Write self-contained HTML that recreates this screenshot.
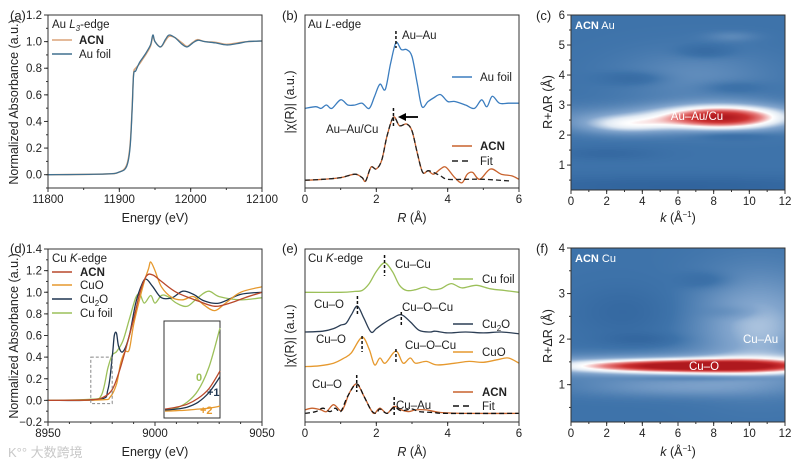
<!DOCTYPE html>
<html><head><meta charset="utf-8">
<style>
html,body{margin:0;padding:0;background:#fff;}
#wrap{position:relative;width:800px;height:468px;overflow:hidden;font-family:"Liberation Sans","Noto Sans CJK SC",sans-serif;}
canvas{position:absolute;}
svg{position:absolute;left:0;top:0;}
text{font-family:"Liberation Sans","Noto Sans CJK SC",sans-serif;fill:#222;}
</style></head>
<body>
<div id="wrap">
<canvas id="hc" width="214" height="175" style="left:571px;top:15px"></canvas>
<canvas id="hf" width="214" height="174" style="left:571px;top:248px"></canvas>
<svg id="chart" width="800" height="468"></svg>
</div>
<script>
// ---------- DATA ----------
// (a) Au L3-edge XANES
const aE=[11800,11880,11900,11910,11915,11918,11920,11923,11928,11933,11938,11944,11947,11950,11958,11965,11970,11978,11988,11995,12003,12010,12020,12035,12050,12065,12080,12100];
const aFoil=[0,0.005,0.02,0.06,0.2,0.5,0.75,0.78,0.84,0.88,0.92,0.98,1.05,1.0,0.96,1.02,1.05,1.03,0.98,0.96,0.99,1.01,1.0,0.99,0.975,0.985,1.0,1.005];
const aACN=[0,0.005,0.02,0.07,0.22,0.52,0.76,0.8,0.83,0.87,0.91,0.97,1.04,1.0,0.96,1.01,1.04,1.03,0.99,0.965,0.995,1.015,1.0,0.995,0.98,0.99,1.0,1.005];
// (b) Au FT-EXAFS
const bR=[0,0.3,0.45,0.6,0.75,1.0,1.2,1.4,1.6,1.8,1.95,2.1,2.25,2.4,2.55,2.7,2.85,3.0,3.15,3.28,3.45,3.6,3.8,4.0,4.2,4.5,4.75,4.95,5.1,5.25,5.45,5.7,6.0];
const bFoil=[0.46,0.47,0.46,0.48,0.46,0.51,0.48,0.48,0.49,0.46,0.53,0.6,0.57,0.72,0.84,0.8,0.8,0.76,0.6,0.47,0.5,0.52,0.54,0.5,0.5,0.48,0.46,0.51,0.47,0.53,0.49,0.49,0.49];
const bR2=[0,0.5,1.0,1.4,1.6,1.7,1.85,2.0,2.15,2.3,2.48,2.65,2.85,3.0,3.15,3.3,3.45,3.6,3.8,3.95,4.2,4.4,4.55,4.7,4.9,5.2,5.5,5.8,6.0];
const bACN=[0.045,0.05,0.06,0.08,0.06,0.04,0.12,0.11,0.16,0.3,0.41,0.36,0.37,0.33,0.2,0.09,0.1,0.08,0.11,0.12,0.06,0.03,0.08,0.09,0.05,0.11,0.08,0.07,0.05];
const bRfit=[0,0.5,1.0,1.4,1.6,1.7,1.85,2.0,2.15,2.3,2.48,2.65,2.85,3.0,3.15,3.3,3.45,3.6,3.8,4.0,4.5,5.0,5.8];
const bFit=[0.045,0.05,0.06,0.08,0.06,0.04,0.12,0.11,0.16,0.3,0.41,0.36,0.37,0.33,0.2,0.09,0.1,0.09,0.07,0.05,0.05,0.05,0.04];
// (c) wavelet blobs Au: k, R, sigmaK, sigmaR, amplitude
const cK=[8.5,3.0,6.0,7.0,3.5,7.5,9.0,9.0,2.0,6.0,9.0];
const cRv=[2.6,2.35,2.6,4.0,3.9,4.8,3.6,2.0,1.4,0.3,5.3];
const cSK=[2.5,1.8,6.0,3.0,1.2,1.0,1.2,1.5,2.0,8.0,1.0];
const cSR=[0.3,0.22,0.3,0.6,0.15,0.15,0.15,0.1,0.15,0.25,0.12];
const cA=[0.55,0.25,0.15,0.1,-0.1,-0.1,-0.08,-0.1,-0.08,-0.12,0.08];
// (d) Cu K-edge XANES
const dE1=[8950,8970,8976,8980,8983,8986,8990,8993,8996,8999,9003,9010,9020,9028,9035,9042,9050];
const dACN=[0,0.005,0.03,0.1,0.25,0.45,0.75,1.0,1.15,1.16,1.1,1.0,0.92,0.87,0.9,0.95,1.0];
const dE2=[8950,8975,8979,8982,8984,8986,8988,8990,8993,8995,8997,8998,9000,9003,9008,9013,9018,9023,9028,9033,9040,9050];
const dCuO=[0,0.005,0.03,0.15,0.35,0.45,0.47,0.7,0.95,1.1,1.22,1.28,1.2,1.05,0.95,0.93,0.96,0.88,0.83,0.9,1.0,1.05];
const dE3=[8950,8974,8978,8980,8981,8982,8983,8985,8988,8991,8994,8996,8999,9003,9008,9013,9018,9023,9030,9040,9050];
const dCu2O=[0,0.01,0.1,0.4,0.6,0.62,0.5,0.45,0.6,0.9,1.08,1.12,1.05,0.95,0.95,1.01,0.98,0.92,0.9,0.98,1.0];
const dE4=[8950,8970,8975,8978,8980,8982,8985,8988,8991,8993,8995,8998,9000,9003,9006,9010,9015,9020,9025,9030,9040,9050];
const dFoil=[0,0.01,0.05,0.3,0.42,0.45,0.55,0.75,0.95,0.98,0.9,0.97,0.9,0.97,0.96,0.9,0.87,0.95,1.01,0.96,0.93,0.95];
const insE=[8970,8972,8974,8976,8978,8980];
const insFoil=[0.0,0.01,0.04,0.1,0.22,0.42];
const insCu2O=[0.0,0.005,0.015,0.04,0.09,0.17];
const insACN=[0.005,0.015,0.03,0.06,0.11,0.2];
const insCuO=[-0.005,-0.003,0.0,0.005,0.01,0.02];
// (e) Cu FT-EXAFS
const eR1=[0,1.0,1.4,1.6,1.8,2.0,2.23,2.45,2.65,2.85,3.1,3.35,3.55,3.8,4.1,4.4,4.8,5.2,5.6,6.0];
const eFoil=[0.75,0.75,0.755,0.76,0.8,0.87,0.92,0.87,0.79,0.76,0.765,0.78,0.765,0.77,0.8,0.775,0.79,0.77,0.76,0.75];
const eR2=[0,0.5,0.8,1.0,1.15,1.3,1.47,1.65,1.85,2.0,2.2,2.45,2.7,2.95,3.2,3.5,3.65,4.0,4.5,5.0,5.5,6.0];
const eCu2O=[0.52,0.525,0.54,0.56,0.57,0.62,0.67,0.6,0.52,0.54,0.57,0.6,0.62,0.58,0.53,0.52,0.525,0.515,0.52,0.515,0.52,0.51];
const eR3=[0,0.4,0.8,1.1,1.3,1.6,1.8,1.95,2.1,2.25,2.55,2.75,2.95,3.1,3.4,3.7,4.2,4.6,5.0,5.4,5.7,6.0];
const eCuO=[0.32,0.325,0.34,0.37,0.4,0.49,0.42,0.33,0.37,0.34,0.41,0.34,0.37,0.34,0.35,0.33,0.34,0.35,0.345,0.36,0.37,0.34];
const eR4=[0,0.2,0.45,0.6,0.8,1.0,1.1,1.25,1.45,1.65,1.85,1.95,2.1,2.3,2.5,2.7,2.9,3.1,3.4,3.8,4.5,6.0];
const eACN=[0.07,0.08,0.07,0.06,0.1,0.065,0.09,0.17,0.22,0.15,0.07,0.05,0.08,0.05,0.09,0.07,0.06,0.07,0.07,0.055,0.05,0.05];
const eR5=[0,0.3,0.5,0.7,0.85,1.0,1.2,1.45,1.65,1.85,2.0,2.1,2.3,2.5,2.7,3.0,3.2,3.6,4.0,6.0];
const eFit=[0.05,0.06,0.08,0.06,0.08,0.06,0.15,0.22,0.15,0.07,0.05,0.075,0.05,0.085,0.065,0.075,0.06,0.055,0.05,0.05];
// (f) wavelet blobs Cu
const fK=[7.0,6.0,10.5,6.0,7.5,4.0,9.0,3.0,7.5];
const fRv=[1.42,1.42,2.3,0.95,3.3,2.0,2.6,2.6,1.15];
const fSK=[4.5,8.0,2.5,4.0,1.0,1.5,1.0,2.0,3.0];
const fSR=[0.1,0.18,0.8,0.15,0.12,0.1,0.1,0.4,0.04];
const fA=[0.55,0.25,0.25,0.15,-0.08,-0.08,-0.06,-0.08,-0.1];

// ---------- HELPERS ----------
const NS='http://www.w3.org/2000/svg';
const svg=document.getElementById('chart');
function el(tag,attrs,parent){const e=document.createElementNS(NS,tag);for(const k in attrs)e.setAttribute(k,attrs[k]);(parent||svg).appendChild(e);return e;}
function scale(d0,d1,p0,p1){return v=>p0+(v-d0)/(d1-d0)*(p1-p0);}
function smoothPath(xs,ys,sx,sy){
  const P=xs.map((x,i)=>[sx(x),sy(ys[i])]);
  let d='M'+P[0][0].toFixed(1)+','+P[0][1].toFixed(1);
  for(let i=0;i<P.length-1;i++){
    const p0=P[Math.max(0,i-1)],p1=P[i],p2=P[i+1],p3=P[Math.min(P.length-1,i+2)];
    const c1=[p1[0]+(p2[0]-p0[0])/6,p1[1]+(p2[1]-p0[1])/6];
    const c2=[p2[0]-(p3[0]-p1[0])/6,p2[1]-(p3[1]-p1[1])/6];
    d+='C'+c1.map(v=>v.toFixed(1))+' '+c2.map(v=>v.toFixed(1))+' '+p2[0].toFixed(1)+','+p2[1].toFixed(1);
  }
  return d;
}
function series(xs,ys,sx,sy,color,w,dash,name){
  const p=el('path',{d:smoothPath(xs,ys,sx,sy),fill:'none',stroke:color,'stroke-width':w,'stroke-dasharray':dash||'none','stroke-linejoin':'round'});
  
  
  return p;
}
function txt(x,y,s,opt,name){
  opt=opt||{};
  const t=el('text',{x:x,y:y,'font-size':opt.size||11,'text-anchor':opt.anchor||'start'});
  if(opt.weight)t.setAttribute('font-weight',opt.weight);
  if(opt.fill)t.setAttribute('style','fill:'+opt.fill);
  if(opt.rot)t.setAttribute('transform','rotate(-90 '+x+' '+y+')');
  t.innerHTML=s;
  
  
  return t;
}
function frame(x0,y0,x1,y1,name){
  const r=el('rect',{x:x0,y:y0,width:x1-x0,height:y1-y0,fill:'none',stroke:'#333','stroke-width':1});
  
  
}
function xTicks(vals,labels,sx,yb,minorStep,d0,d1,name){
  vals.forEach((v,i)=>{
    el('line',{x1:sx(v),x2:sx(v),y1:yb,y2:yb+4,stroke:'#333'});
    txt(sx(v),yb+15,labels[i],{anchor:'middle',size:11.5},name+'-label');
  });
  for(let v=d0;v<=d1+1e-9;v+=minorStep) el('line',{x1:sx(v),x2:sx(v),y1:yb,y2:yb+2,stroke:'#333'});
}
function yTicks(vals,labels,sy,xl,minorStep,d0,d1,name){
  vals.forEach((v,i)=>{
    el('line',{x1:xl-4,x2:xl,y1:sy(v),y2:sy(v),stroke:'#333'});
    txt(xl-6,sy(v)+4,labels[i],{anchor:'end',size:11.5},name+'-label');
  });
  for(let v=d0;v<=d1+1e-9;v+=minorStep) el('line',{x1:xl-2,x2:xl,y1:sy(v),y2:sy(v),stroke:'#333'});
}
function legLine(x,y,color,dash,name){
  const l=el('line',{x1:x,x2:x+20,y1:y,y2:y,stroke:color,'stroke-width':1.6,'stroke-dasharray':dash||'none'});
  
  
}
function vdash(x,y0,y1,name){
  const l=el('line',{x1:x,x2:x,y1:y0,y2:y1,stroke:'#111','stroke-width':1.5,'stroke-dasharray':'3,2'});
  
  
}
// heatmap
function lerp(a,b,t){return a+(b-a)*t;}
const cmapStops=[[0,[30,78,138]],[0.3,[62,115,170]],[0.5,[130,165,205]],[0.62,[225,234,244]],[0.7,[255,255,255]],[0.8,[232,130,130]],[0.9,[205,50,50]],[1,[175,25,30]]];
function cmap(v){v=Math.max(0,Math.min(1,v));for(let i=0;i<cmapStops.length-1;i++){const a=cmapStops[i],b=cmapStops[i+1];if(v<=b[0]){const t=(v-a[0])/(b[0]-a[0]);return [0,1,2].map(j=>Math.round(lerp(a[1][j],b[1][j],t)));}}return cmapStops[cmapStops.length-1][1];}
function heat(id,K,R,SK,SR,A,rMin,rMax,base){
  const c=document.getElementById(id),ctx=c.getContext('2d'),W=c.width,H=c.height;
  const img=ctx.createImageData(W,H);
  for(let py=0;py<H;py++){const r=rMax-(py/H)*(rMax-rMin);
    for(let px=0;px<W;px++){const k=px/W*12;let v=base;
      for(let i=0;i<K.length;i++){const dk=(k-K[i])/SK[i],dr=(r-R[i])/SR[i];v+=A[i]*Math.exp(-0.5*(dk*dk+dr*dr));}
      const col=cmap(v),o=(py*W+px)*4;img.data[o]=col[0];img.data[o+1]=col[1];img.data[o+2]=col[2];img.data[o+3]=255;}}
  ctx.putImageData(img,0,0);
}
heat('hc',cK,cRv,cSK,cSR,cA,0.17,6,0.3);
heat('hf',fK,fRv,fSK,fSR,fA,0.18,4,0.3);

// ---------- PANEL A ----------
{const sx=scale(11800,12100,48,262),sy=scale(-0.1,1.2,188,15);
series(aE,aACN,sx,sy,'#dba478',1.4,null,'acn-xanes-au-line');
series(aE,aFoil,sx,sy,'#41708f',1.3,null,'au-foil-xanes-line');
frame(48,15,262,188,'panel-a-frame');
xTicks([11800,11900,12000,12100],['11800','11900','12000','12100'],sx,188,50,11800,12100,'x-tick-a');
yTicks([0,0.2,0.4,0.6,0.8,1.0,1.2],['0.0','0.2','0.4','0.6','0.8','1.0','1.2'],sy,48,0.1,-0.1,1.2,'y-tick-a');
txt(155,222,'Energy (eV)',{anchor:'middle',size:12.5},'x-axis-title-a');
txt(18,102,'Normalized Absorbance (a.u.)',{anchor:'middle',size:12.5,rot:1},'y-axis-title-a');
txt(52,28,'Au <tspan font-style="italic">L</tspan><tspan font-size="8" dy="3" font-style="italic">3</tspan><tspan dy="-3">-edge</tspan>',{size:11.5},'legend-title-a');
legLine(52,40,'#dba478',null,'legend-line-acn-a');txt(79,44,'ACN',{size:11.5,weight:'bold'},'legend-acn-a');
legLine(52,54,'#41708f',null,'legend-line-au-foil-a');txt(79,58,'Au foil',{size:11.5},'legend-au-foil-a');
txt(10,20,'(a)',{size:13},'panel-label-a');}

// ---------- PANEL B ----------
{const sx=scale(0,6,305,519),sy=scale(0,1,188,15);
series(bR,bFoil,sx,sy,'#3b7dbf',1.3,null,'au-foil-ft-line');
series(bR2,bACN,sx,sy,'#c8622d',1.3,null,'acn-ft-au-line');
series(bRfit,bFit,sx,sy,'#222',1.3,'5,3','fit-ft-au-line');
frame(305,15,519,188,'panel-b-frame');
xTicks([0,2,4,6],['0','2','4','6'],sx,188,1,0,6,'x-tick-b');
txt(412,222,'<tspan font-style="italic">R</tspan> (Å)',{anchor:'middle',size:12.5},'x-axis-title-b');
txt(294,102,'|χ(R)| (a.u.)',{anchor:'middle',size:12.5,rot:1},'y-axis-title-b');
txt(308,28,'Au <tspan font-style="italic">L</tspan>-edge',{size:11.5},'edge-title-b');
vdash(sx(2.55),31,48,'peak-marker-au-au');txt(402,39,'Au–Au',{size:11.5},'label-au-au');
vdash(sx(2.48),108,128,'peak-marker-au-au-cu');txt(326,133,'Au–Au/Cu',{size:11.5},'label-au-au-cu');
el('line',{x1:418,x2:404,y1:117,y2:117,stroke:'#000','stroke-width':1.8});
el('path',{d:'M398,117 L406,113 L406,121 Z',fill:'#000'});
legLine(452,77,'#3b7dbf',null,'legend-line-au-foil-b');txt(480,81,'Au foil',{size:11.5},'legend-au-foil-b');
legLine(452,146,'#c8622d',null,'legend-line-acn-b');txt(480,150,'ACN',{size:11.5,weight:'bold'},'legend-acn-b');
legLine(452,161,'#222','6,4','legend-line-fit-b');txt(480,165,'Fit',{size:11.5},'legend-fit-b');
txt(282,20,'(b)',{size:13},'panel-label-b');}

// ---------- PANEL C ----------
{const sx=scale(0,12,571,785),sy=scale(0.17,6,190,15);
frame(571,15,785,190,'panel-c-frame');
xTicks([0,2,4,6,8,10,12],['0','2','4','6','8','10','12'],sx,190,1,0,12,'x-tick-c');
yTicks([1,2,3,4,5,6],['1','2','3','4','5','6'],sy,571,0.5,0.5,6,'y-tick-c');
txt(678,222,'<tspan font-style="italic">k</tspan> (Å<tspan font-size="8" dy="-5">−1</tspan><tspan dy="5">)</tspan>',{anchor:'middle',size:12.5},'x-axis-title-c');
txt(552,102,'R+ΔR (Å)',{anchor:'middle',size:12.5,rot:1},'y-axis-title-c');
txt(575,29,'<tspan font-weight="bold">ACN</tspan> Au',{size:11,fill:'#fff'},'heatmap-title-c');
txt(697,120,'Au–Au/Cu',{size:11.5,fill:'#fff',anchor:'middle'},'label-au-au-cu-wavelet');
txt(536,20,'(c)',{size:13},'panel-label-c');}

// ---------- PANEL D ----------
{const sx=scale(8950,9050,48,262),sy=scale(-0.2,1.4,422,249);
series(dE4,dFoil,sx,sy,'#9cc05a',1.3,null,'cu-foil-xanes-line');
series(dE3,dCu2O,sx,sy,'#1e3550',1.3,null,'cu2o-xanes-line');
series(dE2,dCuO,sx,sy,'#e6992e',1.3,null,'cuo-xanes-line');
series(dE1,dACN,sx,sy,'#b9482b',1.3,null,'acn-xanes-cu-line');
const bx=el('rect',{x:sx(8970),y:sy(0.4),width:sx(8980)-sx(8970),height:sy(-0.03)-sy(0.4),fill:'none',stroke:'#888','stroke-dasharray':'3,2'});


const ix=scale(8970,8980,165,220),iy=scale(-0.03,0.45,416,322);
const ib=el('rect',{x:164,y:321,width:56,height:97,fill:'#fff',stroke:'#333'});


series(insE,insFoil,ix,iy,'#9cc05a',1.3,null,'inset-cu-foil-line');
series(insE,insACN,ix,iy,'#b9482b',1.3,null,'inset-acn-line');
series(insE,insCu2O,ix,iy,'#1e3550',1.3,null,'inset-cu2o-line');
series(insE,insCuO,ix,iy,'#e6992e',1.3,null,'inset-cuo-line');
txt(196,381,'0',{size:11,weight:'bold',fill:'#9cc05a'},'inset-label-0');
txt(207,396,'+1',{size:11,weight:'bold',fill:'#1e3550'},'inset-label-plus1');
txt(200,414,'+2',{size:11,weight:'bold',fill:'#e6992e'},'inset-label-plus2');
frame(48,249,262,422,'panel-d-frame');
xTicks([8950,9000,9050],['8950','9000','9050'],sx,422,10,8950,9050,'x-tick-d');
yTicks([-0.2,0,0.2,0.4,0.6,0.8,1.0,1.2,1.4],['−0.2','0.0','0.2','0.4','0.6','0.8','1.0','1.2','1.4'],sy,48,0.1,-0.2,1.4,'y-tick-d');
txt(155,456,'Energy (eV)',{anchor:'middle',size:12.5},'x-axis-title-d');
txt(18,336,'Normalized Absorbance (a.u.)',{anchor:'middle',size:12.5,rot:1},'y-axis-title-d');
txt(52,262,'Cu <tspan font-style="italic">K</tspan>-edge',{size:11.5},'legend-title-d');
legLine(52,272,'#b9482b',null,'legend-line-acn-d');txt(80,276,'ACN',{size:11.5,weight:'bold'},'legend-acn-d');
legLine(52,285,'#e6992e',null,'legend-line-cuo-d');txt(80,289,'CuO',{size:11.5},'legend-cuo-d');
legLine(52,299,'#1e3550',null,'legend-line-cu2o-d');txt(80,303,'Cu<tspan font-size="8" dy="3">2</tspan><tspan dy="-3">O</tspan>',{size:11.5},'legend-cu2o-d');
legLine(52,313,'#9cc05a',null,'legend-line-cu-foil-d');txt(80,317,'Cu foil',{size:11.5},'legend-cu-foil-d');
txt(10,253,'(d)',{size:13},'panel-label-d');
txt(8,457,'K°° 大数跨境',{size:13,fill:'#c8c8c8'},'watermark');}

// ---------- PANEL E ----------
{const sx=scale(0,6,305,519),sy=scale(0,1,422,249);
series(eR1,eFoil,sx,sy,'#9cc05a',1.3,null,'cu-foil-ft-line');
series(eR2,eCu2O,sx,sy,'#2c3e55',1.3,null,'cu2o-ft-line');
series(eR3,eCuO,sx,sy,'#e6992e',1.3,null,'cuo-ft-line');
series(eR4,eACN,sx,sy,'#c8622d',1.3,null,'acn-ft-cu-line');
series(eR5,eFit,sx,sy,'#111',1.3,'5,3','fit-ft-cu-line');
frame(305,249,519,422,'panel-e-frame');
xTicks([0,2,4,6],['0','2','4','6'],sx,422,1,0,6,'x-tick-e');
txt(412,456,'<tspan font-style="italic">R</tspan> (Å)',{anchor:'middle',size:12.5},'x-axis-title-e');
txt(294,336,'|χ(R)| (a.u.)',{anchor:'middle',size:12.5,rot:1},'y-axis-title-e');
txt(308,262,'Cu <tspan font-style="italic">K</tspan>-edge',{size:11.5},'edge-title-e');
vdash(sx(2.23),255,276,'peak-marker-cu-cu');txt(395,268,'Cu–Cu',{size:11.5},'label-cu-cu');
vdash(sx(1.47),296,314,'peak-marker-cu-o-cu2o');txt(344,308,'Cu–O',{size:11.5,anchor:'end'},'label-cu-o-cu2o');
vdash(sx(2.7),312,326,'peak-marker-cu-o-cu-cu2o');txt(402,311,'Cu–O–Cu',{size:11.5},'label-cu-o-cu-cu2o');
vdash(sx(1.6),336,352,'peak-marker-cu-o-cuo');txt(346,343,'Cu–O',{size:11.5,anchor:'end'},'label-cu-o-cuo');
vdash(sx(2.55),349,362,'peak-marker-cu-o-cu-cuo');txt(405,349,'Cu–O–Cu',{size:11.5},'label-cu-o-cu-cuo');
vdash(sx(1.45),375,392,'peak-marker-cu-o-acn');txt(342,388,'Cu–O',{size:11.5,anchor:'end'},'label-cu-o-acn');
vdash(sx(2.5),397,415,'peak-marker-cu-au');txt(396,409,'Cu–Au',{size:11.5},'label-cu-au');
legLine(453,279,'#9cc05a',null,'legend-line-cu-foil-e');txt(482,283,'Cu foil',{size:11.5},'legend-cu-foil-e');
legLine(453,324,'#2c3e55',null,'legend-line-cu2o-e');txt(482,328,'Cu<tspan font-size="8" dy="3">2</tspan><tspan dy="-3">O</tspan>',{size:11.5},'legend-cu2o-e');
legLine(453,352,'#e6992e',null,'legend-line-cuo-e');txt(482,356,'CuO',{size:11.5},'legend-cuo-e');
legLine(453,392,'#c8622d',null,'legend-line-acn-e');txt(482,396,'ACN',{size:11.5,weight:'bold'},'legend-acn-e');
legLine(453,406,'#111','6,4','legend-line-fit-e');txt(482,410,'Fit',{size:11.5},'legend-fit-e');
txt(282,253,'(e)',{size:13},'panel-label-e');}

// ---------- PANEL F ----------
{const sx=scale(0,12,571,785),sy=scale(0.18,4,422,248);
frame(571,248,785,422,'panel-f-frame');
xTicks([0,2,4,6,8,10,12],['0','2','4','6','8','10','12'],sx,422,1,0,12,'x-tick-f');
yTicks([1,2,3,4],['1','2','3','4'],sy,571,0.5,0.5,4,'y-tick-f');
txt(678,456,'<tspan font-style="italic">k</tspan> (Å<tspan font-size="8" dy="-5">−1</tspan><tspan dy="5">)</tspan>',{anchor:'middle',size:12.5},'x-axis-title-f');
txt(552,336,'R+ΔR (Å)',{anchor:'middle',size:12.5,rot:1},'y-axis-title-f');
txt(575,262,'<tspan font-weight="bold">ACN</tspan> Cu',{size:11,fill:'#fff'},'heatmap-title-f');
txt(704,370,'Cu–O',{size:11.5,fill:'#fff',anchor:'middle'},'label-cu-o-wavelet');
txt(743,343,'Cu–Au',{size:11.5,fill:'#fff'},'label-cu-au-wavelet');
txt(536,253,'(f)',{size:13},'panel-label-f');}
</script>
</body></html>
